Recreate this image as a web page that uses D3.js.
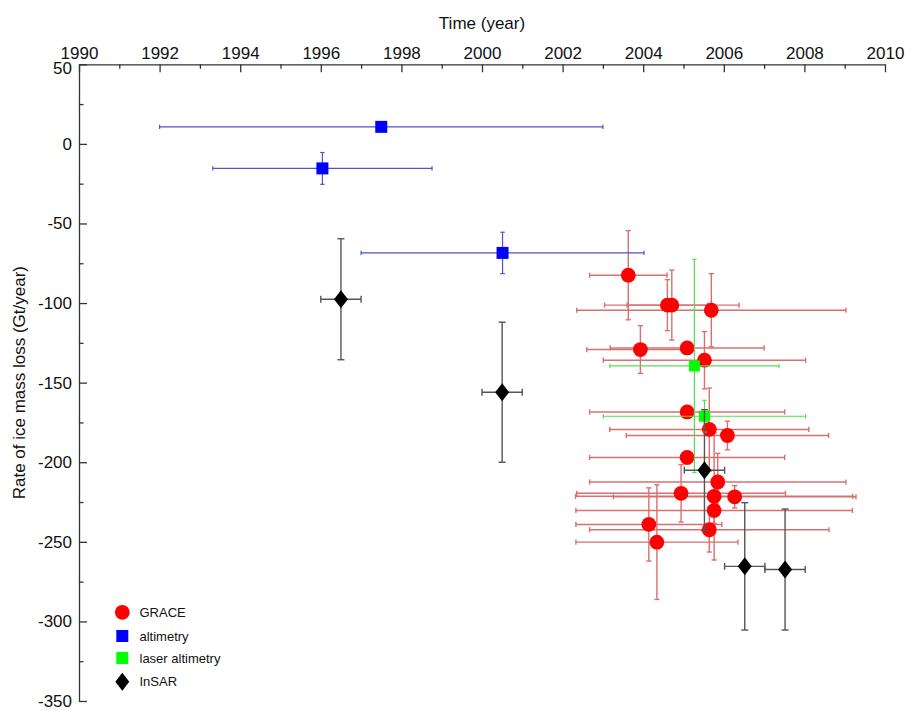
<!DOCTYPE html>
<html><head><meta charset="utf-8">
<script src="https://cdn.jsdelivr.net/npm/d3@7"></script>
<style>
body{margin:0;background:#fff}
text{font-family:"Liberation Sans",Arial,Helvetica,sans-serif}
</style>
</head><body>
<svg id="chart" width="912" height="711"></svg>
<script>
// ---------- data ----------
const xTickValues = [1990,1992,1994,1996,1998,2000,2002,2004,2006,2008,2010];
const yTickValues = [50,0,-50,-100,-150,-200,-250,-300,-350];

// GRACE
const graceYear     = [2003.63,2004.60,2004.71,2005.69,2003.93,2005.09,2005.52,2005.09,2005.64,2006.09,2005.09,2005.85,2004.94,2005.76,2006.27,2005.76,2004.14,2005.64,2004.34];
const graceYearErr  = [0.96,1.00,1.67,3.34,1.33,1.91,2.51,2.42,2.47,2.51,2.42,3.18,2.59,3.44,3.01,3.43,1.81,2.97,2.01];
const graceRate     = [-82.5,-101.3,-101.3,-104.5,-129.2,-128.2,-135.9,-168.4,-179.4,-183.2,-197.0,-212.4,-219.5,-221.4,-221.7,-230.3,-239.1,-242.4,-250.2];
const graceRateErr  = [28,16,22,23,15,4,18,4,26,9,4,18,18,40,7,8,23,14,36];

// altimetry
const altYear    = [1997.5,1996.04,2000.51];
const altYearErr = [5.5,2.72,3.51];
const altRate    = [10.7,-15.4,-68.5];
const altRateErr = [0,10,13];

// laser altimetry
const laserYear    = [2005.27,2005.52];
const laserYearErr = [2.10,2.51];
const laserRate    = [-139.5,-171.1];
const laserRateErr = [67,10];

// InSAR
const insarYear    = [1996.5,2000.5,2005.52,2006.52,2007.52];
const insarYearErr = [0.5,0.5,0.5,0.5,0.5];
const insarRate    = [-97.6,-156.0,-205.0,-265.4,-267.4];
const insarRateErr = [38,44,38,40,38];

const legendLabels = ["GRACE","altimetry","laser altimetry","InSAR"];

// ---------- chart ----------
const svg = d3.select("#chart");
const x = d3.scaleLinear().domain([1990,2010]).range([79,885]);
const y = d3.scaleLinear().domain([-350,50]).range([701,64.3]);

const zip = (a,b,c,d)=>a.map((v,i)=>({x:v,xe:b[i],y:c[i],ye:d[i]}));
const grace = zip(graceYear,graceYearErr,graceRate,graceRateErr);
const alt   = zip(altYear,altYearErr,altRate,altRateErr);
const laser = zip(laserYear,laserYearErr,laserRate,laserRateErr);
const insar = zip(insarYear,insarYearErr,insarRate,insarRateErr);

function errorBars(data, color, cap, sw){
  const g = svg.append("g").attr("stroke",color).attr("stroke-width",sw).attr("fill","none");
  data.forEach(d=>{
    const x0=x(d.x-d.xe), x1=x(d.x+d.xe), yc=y(d.y), xc=x(d.x);
    g.append("line").attr("x1",x0).attr("x2",x1).attr("y1",yc).attr("y2",yc);
    g.append("line").attr("x1",x0).attr("x2",x0).attr("y1",yc-cap).attr("y2",yc+cap);
    g.append("line").attr("x1",x1).attr("x2",x1).attr("y1",yc-cap).attr("y2",yc+cap);
    if(d.ye>0){
      const y0=y(d.y+d.ye), y1=y(d.y-d.ye);
      g.append("line").attr("x1",xc).attr("x2",xc).attr("y1",y0).attr("y2",y1);
      g.append("line").attr("x1",xc-cap).attr("x2",xc+cap).attr("y1",y0).attr("y2",y0);
      g.append("line").attr("x1",xc-cap).attr("x2",xc+cap).attr("y1",y1).attr("y2",y1);
    }
  });
}

const diamond = (cx,cy,w,h)=>`M${cx},${cy-h}L${cx+w},${cy}L${cx},${cy+h}L${cx-w},${cy}Z`;

// GRACE
errorBars(grace,"#d96f6f",2.6,1.4);
svg.append("g").selectAll("circle").data(grace).join("circle")
  .attr("cx",d=>x(d.x)).attr("cy",d=>y(d.y)).attr("r",7.4).attr("fill","#ff0000");

// altimetry
errorBars(alt,"#5050d0",2.2,1.2);
svg.append("g").selectAll("rect").data(alt).join("rect")
  .attr("x",d=>x(d.x)-6).attr("y",d=>y(d.y)-6).attr("width",12).attr("height",12).attr("fill","#0000ff");

// laser altimetry
errorBars(laser,"#55dd55",2.2,1.2);
svg.append("g").selectAll("rect").data(laser).join("rect")
  .attr("x",d=>x(d.x)-5.5).attr("y",d=>y(d.y)-5.5).attr("width",11).attr("height",11).attr("fill","#00ff00");

// InSAR
errorBars(insar,"#555555",3.5,1.4);
svg.append("g").selectAll("path").data(insar).join("path")
  .attr("d",d=>diamond(x(d.x),y(d.y),7,9)).attr("fill","#000");

// ---------- axes ----------
const minorX = d3.range(1990,2011,1);
const minorY = d3.range(-350,51,25);
const fmt = d=>String(d);

const topAxis = d3.axisTop(x).tickValues(xTickValues).tickFormat(fmt).tickSizeInner(-8).tickSizeOuter(0).tickPadding(5);
const gTop = svg.append("g").attr("transform",`translate(0,${y(50)})`).call(topAxis);
svg.append("g").attr("transform",`translate(0,${y(50)})`)
  .call(d3.axisTop(x).tickValues(minorX.filter(v=>v%2)).tickFormat("").tickSizeInner(-4.5).tickSizeOuter(0))
  .select(".domain").remove();

const leftAxis = d3.axisLeft(y).tickValues(yTickValues).tickFormat(fmt).tickSizeInner(-8).tickSizeOuter(0).tickPadding(7);
const gLeft = svg.append("g").attr("transform",`translate(${x(1990)},0)`).call(leftAxis);
svg.append("g").attr("transform",`translate(${x(1990)},0)`)
  .call(d3.axisLeft(y).tickValues(minorY.filter(v=>v%50!==0)).tickFormat("").tickSizeInner(-4.5).tickSizeOuter(0))
  .select(".domain").remove();

svg.selectAll(".domain, .tick line").attr("stroke","#333").attr("stroke-width",1.3);
gTop.selectAll("text").attr("font-size",17).attr("fill","#111").attr("font-family","Liberation Sans, Arial, sans-serif");
gLeft.selectAll("text").attr("font-size",17).attr("fill","#111").attr("font-family","Liberation Sans, Arial, sans-serif");
// the top-most y label sits slightly below its tick, tucked under the 1990 label
gLeft.selectAll(".tick").filter(d=>d===50).select("text").attr("dy","0.55em");

svg.append("text").attr("x",(x(1990)+x(2010))/2).attr("y",29).attr("text-anchor","middle")
  .attr("font-size",17).attr("fill","#111").text("Time (year)");
svg.append("text").attr("transform",`translate(25,${(y(50)+y(-350))/2}) rotate(-90)`)
  .attr("text-anchor","middle").attr("font-size",17).attr("fill","#111").text("Rate of ice mass loss (Gt/year)");

// ---------- legend ----------
const lg = svg.append("g");
const lx = 122.3, ly = [612.3,636,658,681.7];
lg.append("circle").attr("cx",lx).attr("cy",ly[0]).attr("r",7.4).attr("fill","#ff0000");
lg.append("rect").attr("x",lx-6).attr("y",ly[1]-6).attr("width",12).attr("height",12).attr("fill","#0000ff");
lg.append("rect").attr("x",lx-6).attr("y",ly[2]-6).attr("width",12).attr("height",12).attr("fill","#00ff00");
lg.append("path").attr("d",diamond(lx,ly[3],7,9)).attr("fill","#000");
lg.selectAll("text").data(legendLabels).join("text")
  .attr("x",139.5).attr("y",(d,i)=>ly[i]+4.5).attr("font-size",13).attr("fill","#111").text(d=>d);
</script>
</body></html>
